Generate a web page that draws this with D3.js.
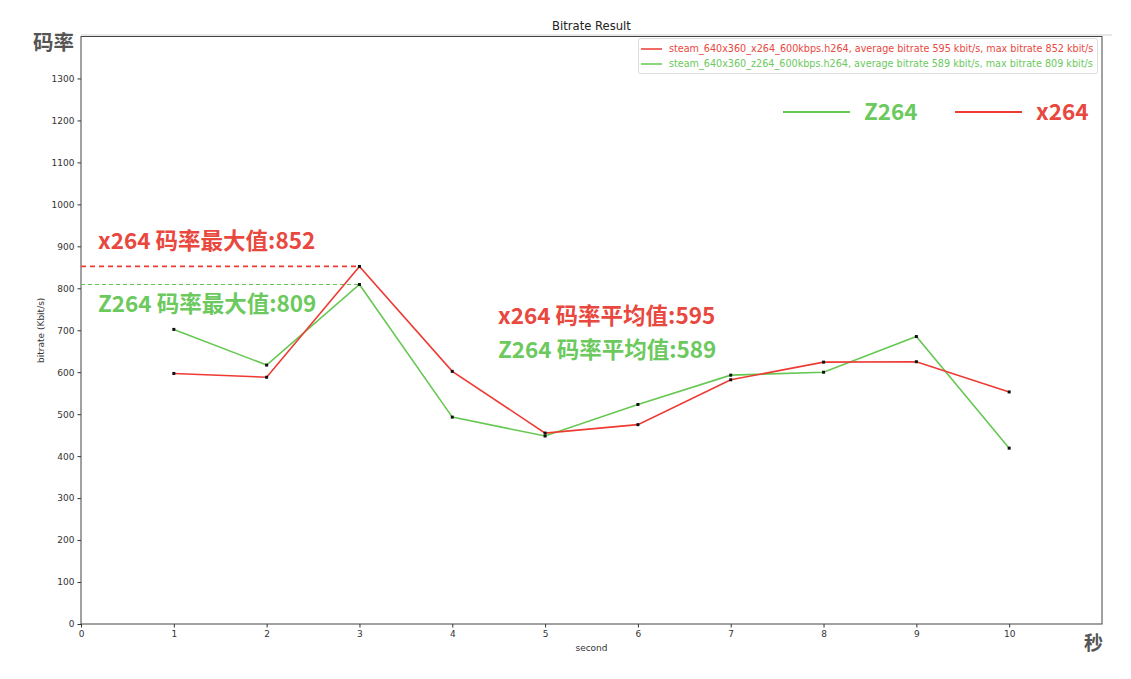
<!DOCTYPE html>
<html>
<head>
<meta charset="utf-8">
<script src="https://cdn.jsdelivr.net/npm/d3@7"></script>
<style>
  html, body { margin: 0; padding: 0; background: #fff; }
  svg { display: block; }
  .tick text { font-family: "DejaVu Sans", sans-serif; font-size: 9px; fill: #333; }
  .tick line { stroke: #333; }
  .domain { stroke: none; }
</style>
</head>
<body>
<svg id="chart" width="1131" height="679"></svg>
<script>
// Per-second bitrate samples (kbit/s)
const seconds = [1, 2, 3, 4, 5, 6, 7, 8, 9, 10];
const x264Bitrate = [597, 588, 852, 602, 455, 475, 582, 624, 625, 553];
const z264Bitrate = [702, 617, 809, 493, 448, 523, 593, 600, 685, 419];
const xTicks = [0, 1, 2, 3, 4, 5, 6, 7, 8, 9, 10];
const yTicks = [0, 100, 200, 300, 400, 500, 600, 700, 800, 900, 1000, 1100, 1200, 1300];
const seriesNames = ["x264", "Z264"];
const fileNames = ["steam_640x360_x264_600kbps.h264", "steam_640x360_z264_600kbps.h264"];

const RED = "#ee3a33", GREEN = "#66c853";
const RED_TXT = "#e8483e", GREEN_TXT = "#6cc95e";

const svg = d3.select("#chart");
const L = 81, R = 1102, T = 36.5, B = 624;

const x = d3.scaleLinear().domain([0, 11]).range([L, R]);
const y = d3.scaleLinear().domain([0, 1400]).range([B, T]);

const series = [
  { name: seriesNames[0], file: fileNames[0], values: x264Bitrate, color: RED, txt: RED_TXT },
  { name: seriesNames[1], file: fileNames[1], values: z264Bitrate, color: GREEN, txt: GREEN_TXT }
];
series.forEach(s => {
  s.max = d3.max(s.values);
  s.avg = Math.round(d3.mean(s.values));
});

// faint rule above the frame
svg.append("line").attr("x1", L).attr("x2", 1112).attr("y1", T - 1.5).attr("y2", T - 1.5)
  .attr("stroke", "#d0d0d0").attr("stroke-width", 1);

// axes
svg.append("g").attr("transform", `translate(0,${B})`)
  .call(d3.axisBottom(x).tickValues(xTicks).tickFormat(d3.format("d")).tickSize(3.5).tickPadding(3));
svg.append("g").attr("transform", `translate(${L},0)`)
  .call(d3.axisLeft(y).tickValues(yTicks).tickFormat(d3.format("d")).tickSize(3.5).tickPadding(3));

// frame
svg.append("rect").attr("x", L).attr("y", T).attr("width", R - L).attr("height", B - T)
  .attr("fill", "none").attr("stroke", "#444").attr("stroke-width", 1);

// title and axis labels
svg.append("text").attr("x", (L + R) / 2).attr("y", 30).attr("text-anchor", "middle")
  .attr("font-family", "DejaVu Sans, sans-serif").attr("font-size", 11.6).attr("fill", "#222")
  .text("Bitrate Result");
svg.append("text").attr("x", (L + R) / 2).attr("y", 651).attr("text-anchor", "middle")
  .attr("font-family", "DejaVu Sans, sans-serif").attr("font-size", 9).attr("fill", "#333")
  .text("second");
svg.append("text").attr("transform", `translate(44,${(T + B) / 2}) rotate(-90)`).attr("text-anchor", "middle")
  .attr("font-family", "DejaVu Sans, sans-serif").attr("font-size", 9).attr("fill", "#333")
  .text("bitrate (Kbit/s)");

// max reference lines
const maxLineStyle = [{ w: 1.8, dash: "5,4" }, { w: 1, dash: "4,3" }];
series.forEach((s, i) => {
  const idx = s.values.indexOf(s.max);
  svg.append("line").attr("x1", L).attr("x2", x(seconds[idx]))
    .attr("y1", y(s.max)).attr("y2", y(s.max))
    .attr("stroke", s.color).attr("stroke-width", maxLineStyle[i].w)
    .attr("stroke-dasharray", maxLineStyle[i].dash);
});

// series lines (green under red)
const line = d3.line().x((d, i) => x(seconds[i])).y(d => y(d));
[series[1], series[0]].forEach(s => {
  svg.append("path").datum(s.values).attr("d", line)
    .attr("fill", "none").attr("stroke", s.color).attr("stroke-width", 1.6);
});
series.forEach(s => {
  svg.append("g").selectAll("rect").data(s.values).join("rect")
    .attr("x", (d, i) => x(seconds[i]) - 1.5).attr("y", d => y(d) - 1.5)
    .attr("width", 3).attr("height", 3).attr("fill", "#111");
});

// legend box
const lg = svg.append("g");
lg.append("rect").attr("x", 638.5).attr("y", 38.5).attr("width", 459).attr("height", 35)
  .attr("fill", "#fff").attr("stroke", "#ddd").attr("rx", 2);
series.forEach((s, i) => {
  const yy = 49 + i * 15;
  lg.append("line").attr("x1", 641).attr("x2", 662).attr("y1", yy).attr("y2", yy)
    .attr("stroke", s.color).attr("stroke-width", 1.5);
  lg.append("text").attr("x", 669).attr("y", yy + 3.4)
    .attr("font-family", "DejaVu Sans, sans-serif").attr("font-size", 9.65).attr("fill", s.txt)
    .text(`${s.file}, average bitrate ${s.avg} kbit/s, max bitrate ${s.max} kbit/s`);
});

// large legend
const cjk = "'Noto Sans CJK SC', 'Noto Sans', sans-serif";
const bigLegend = [
  { s: series[1], x0: 783 },
  { s: series[0], x0: 955 }
];
bigLegend.forEach(b => {
  svg.append("line").attr("x1", b.x0).attr("x2", b.x0 + 67).attr("y1", 112).attr("y2", 112)
    .attr("stroke", b.s.color).attr("stroke-width", 2.2);
  svg.append("text").attr("x", b.x0 + 81).attr("y", 120)
    .attr("font-family", cjk).attr("font-weight", 700).attr("font-size", 22.5).attr("fill", b.s.txt)
    .text(b.s.name);
});

// annotations
function note(tx, ty, str, color) {
  svg.append("text").attr("x", tx).attr("y", ty)
    .attr("font-family", cjk).attr("font-weight", 700).attr("font-size", 22.5).attr("fill", color)
    .text(str);
}
note(98, 249, `${series[0].name} 码率最大值:${series[0].max}`, series[0].txt);
note(98, 312, `${series[1].name} 码率最大值:${series[1].max}`, series[1].txt);
note(498, 324, `${series[0].name} 码率平均值:${series[0].avg}`, series[0].txt);
note(498, 358, `${series[1].name} 码率平均值:${series[1].avg}`, series[1].txt);

// axis captions
svg.append("text").attr("x", 33).attr("y", 50)
  .attr("font-family", cjk).attr("font-weight", 700).attr("font-size", 20.5).attr("fill", "#555")
  .text("码率");
svg.append("text").attr("x", 1084).attr("y", 650)
  .attr("font-family", cjk).attr("font-weight", 700).attr("font-size", 19).attr("fill", "#555")
  .text("秒");
</script>
</body>
</html>
